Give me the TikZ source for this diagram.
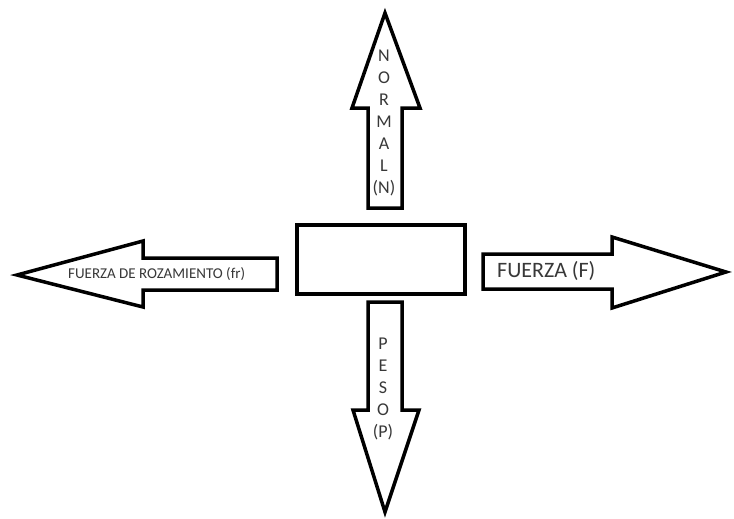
\documentclass[tikz,border=0pt]{standalone}
\usepackage{fontspec}
\setmainfont{Carlito}
\begin{document}
\begin{tikzpicture}[x=1pt,y=-1pt,
  arrowshape/.style={draw=black,line width=3.5pt,line join=miter,fill=white},
  lbl/.style={text=black!78,inner sep=0pt},
  vlbl/.style={lbl,font=\fontsize{18}{21}\selectfont,align=center}]
\useasboundingbox (0,0) rectangle (734,519);
% body
\node[draw=black,line width=3.5pt,minimum width=168pt,minimum height=69pt,inner sep=0pt,anchor=north west] (body) at (295,223) {};
% up arrow NORMAL
\draw[arrowshape] (368,208) -- (368,108) -- (352,108) -- (385,13) -- (420,108) -- (402,108) -- (402,208) -- cycle;
% down arrow PESO
\draw[arrowshape] (368,302) -- (368,410) -- (353,410) -- (385,512) -- (419,410) -- (402,410) -- (402,302) -- cycle;
% right arrow FUERZA
\draw[arrowshape] (483,254) -- (612,254) -- (612,237) -- (726,272) -- (612,308) -- (612,289) -- (483,289) -- cycle;
% left arrow ROZAMIENTO
\draw[arrowshape] (277,258) -- (143,258) -- (143,241) -- (17,275) -- (143,307) -- (143,290) -- (277,290) -- cycle;
% labels
\node[vlbl] (normal) at (384,123) {N\\[1pt]O\\[1pt]R\\[1pt]M\\[1pt]A\\[1pt]L\\[1pt](N)};
\node[vlbl] (peso) at (383,389) {P\\[1pt]E\\[1pt]S\\[1pt]O\\[1pt](P)};
\node[lbl,font=\fontsize{22}{26}\selectfont,anchor=west] (fuerza) at (497,271) {FUERZA (F)};
\node[lbl,font=\fontsize{15}{18}\selectfont,anchor=west] (roz) at (68,274) {FUERZA DE ROZAMIENTO (fr)};
\end{tikzpicture}
\end{document}
